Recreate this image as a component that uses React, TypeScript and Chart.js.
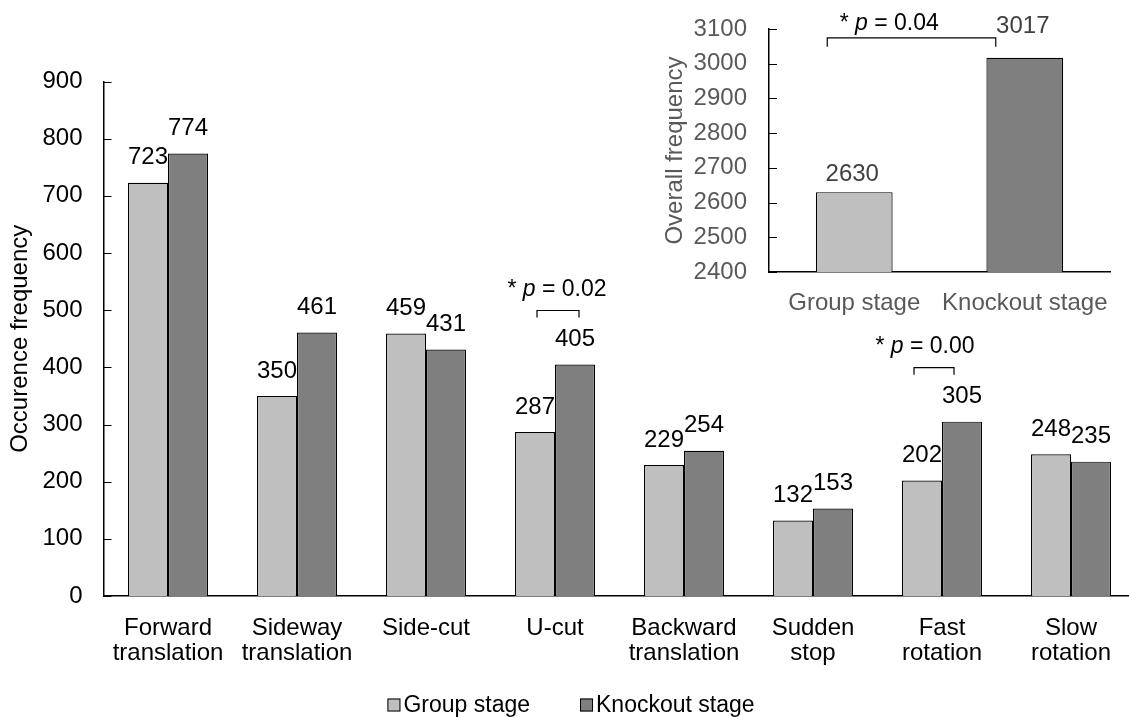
import { useEffect, useRef } from 'react';
import { Chart, registerables } from 'chart.js';

Chart.register(...registerables);

const FONT = '"Liberation Sans", Arial, Helvetica, sans-serif';

// ---- Main chart data ----
const categories: string[][] = [
  ['Forward', 'translation'],
  ['Sideway', 'translation'],
  ['Side-cut'],
  ['U-cut'],
  ['Backward', 'translation'],
  ['Sudden', 'stop'],
  ['Fast', 'rotation'],
  ['Slow', 'rotation'],
];
const seriesNames = ['Group stage', 'Knockout stage'];
const groupStage = [723, 350, 459, 287, 229, 132, 202, 248];
const knockoutStage = [774, 461, 431, 405, 254, 153, 305, 235];
const yMin = 0;
const yMax = 900;
const yStep = 100;
const yTitle = 'Occurence frequency';

// significance annotations (category index, p value)
const sigCategories = [3, 6];
const sigValues = ['0.02', '0.00'];

// ---- Inset data ----
const insetCategories = ['Group stage', 'Knockout stage'];
const insetValues = [2630, 3017];
const insetMin = 2400;
const insetMax = 3100;
const insetStep = 100;
const insetTitle = 'Overall frequency';
const insetSig = '0.04';

const LIGHT = '#bfbfbf';
const DARK = '#7f7f7f';
const FS = 24;
const FS_SIG = 23;
const FS_LEG = 23;

function drawSig(ctx: CanvasRenderingContext2D, cx: number, cy: number, value: string, size: number) {
  const normal = `${size}px ${FONT}`;
  const italic = `italic ${size}px ${FONT}`;
  const parts: [string, string][] = [['* ', normal], ['p', italic], [' = ' + value, normal]];
  let total = 0;
  const widths = parts.map(([t, f]) => {
    ctx.font = f;
    const w = ctx.measureText(t).width;
    total += w;
    return w;
  });
  let x = cx - total / 2;
  ctx.save();
  ctx.fillStyle = '#000';
  ctx.textAlign = 'left';
  ctx.textBaseline = 'middle';
  parts.forEach(([t, f], i) => {
    ctx.font = f;
    ctx.fillText(t, x, cy);
    x += widths[i];
  });
  ctx.restore();
}

function drawBracket(ctx: CanvasRenderingContext2D, x1: number, x2: number, top: number, leg: number) {
  ctx.save();
  ctx.strokeStyle = '#000';
  ctx.lineWidth = 1.2;
  ctx.beginPath();
  ctx.moveTo(x1, top + leg);
  ctx.lineTo(x1, top);
  ctx.lineTo(x2, top);
  ctx.lineTo(x2, top + leg);
  ctx.stroke();
  ctx.restore();
}

const insideTicksPlugin = {
  id: 'insideTicks',
  afterDraw(chart: any) {
    const y = chart.scales.y;
    const ctx = chart.ctx;
    const left = chart.chartArea.left;
    ctx.save();
    ctx.strokeStyle = '#000';
    ctx.lineWidth = 1;
    y.ticks.forEach((t: any) => {
      const py = Math.round(y.getPixelForValue(t.value)) + 0.5;
      ctx.beginPath();
      ctx.moveTo(left, py);
      ctx.lineTo(left + 8, py);
      ctx.stroke();
    });
    ctx.restore();
  },
};

const mainLabelsPlugin = {
  id: 'mainLabels',
  afterDatasetsDraw(chart: any) {
    const ctx = chart.ctx;
    ctx.save();
    ctx.font = `${FS}px ${FONT}`;
    ctx.fillStyle = '#000';
    ctx.textAlign = 'center';
    ctx.textBaseline = 'middle';
    chart.data.datasets.forEach((ds: any, di: number) => {
      const meta = chart.getDatasetMeta(di);
      meta.data.forEach((bar: any, i: number) => {
        ctx.fillText(String(ds.data[i]), bar.x, bar.y - 25);
      });
    });
    ctx.restore();

    // significance brackets
    const xs = chart.scales.x;
    const bracketOffsets = [
      { l: -18, r: 24, t: 2 },
      { l: -28, r: 12, t: -17 },
    ];
    sigCategories.forEach((ci, k) => {
      const c = xs.getPixelForValue(ci);
      const darkBar = chart.getDatasetMeta(1).data[ci];
      const top = darkBar.y - 54;
      const o = bracketOffsets[k];
      drawBracket(ctx, c + o.l, c + o.r, top, 7);
      drawSig(ctx, c + o.t, top - 21, sigValues[k], FS_SIG);
    });

    // legend
    ctx.save();
    ctx.font = `${FS_LEG}px ${FONT}`;
    const box = 13;
    const gapText = 3;
    const gapItem = 50;
    const colors = [LIGHT, DARK];
    const widths = seriesNames.map((n) => ctx.measureText(n).width);
    const total = widths.reduce((a, w) => a + box + gapText + w, 0) + gapItem * (seriesNames.length - 1);
    let x = 571 - total / 2;
    const cy = 705;
    seriesNames.forEach((n, i) => {
      ctx.fillStyle = colors[i];
      ctx.fillRect(x, cy - box / 2, box, box);
      ctx.strokeStyle = '#000';
      ctx.lineWidth = 1;
      ctx.strokeRect(x + 0.5, cy - box / 2 + 0.5, box - 1, box - 1);
      ctx.fillStyle = '#000';
      ctx.textAlign = 'left';
      ctx.textBaseline = 'middle';
      ctx.fillText(n, x + box + gapText, cy + 1);
      x += box + gapText + widths[i] + gapItem;
    });
    ctx.restore();
  },
};

const insetLabelsPlugin = {
  id: 'insetLabels',
  afterDatasetsDraw(chart: any) {
    const ctx = chart.ctx;
    const lifts = [18, 31];
    ctx.save();
    ctx.font = `${FS}px ${FONT}`;
    ctx.fillStyle = '#404040';
    ctx.textAlign = 'center';
    ctx.textBaseline = 'middle';
    const meta = chart.getDatasetMeta(0);
    meta.data.forEach((bar: any, i: number) => {
      ctx.fillText(String(chart.data.datasets[0].data[i]), bar.x - 2, bar.y - lifts[i]);
    });
    ctx.restore();
    const b0 = meta.data[0];
    const b1 = meta.data[1];
    const top = b1.y - 20;
    const x1 = b0.x - 27;
    const x2 = b1.x - 29;
    drawBracket(ctx, x1, x2, top, 9);
    drawSig(ctx, x1 + 62, top - 14, insetSig, FS_SIG);
  },
};

export default function App() {
  const mainRef = useRef<HTMLCanvasElement>(null);
  const insetRef = useRef<HTMLCanvasElement>(null);

  useEffect(() => {
    const main = new Chart(mainRef.current!, {
      type: 'bar',
      data: {
        labels: categories,
        datasets: [
          {
            label: seriesNames[0],
            data: groupStage,
            backgroundColor: LIGHT,
            borderColor: '#000',
            borderWidth: 1.2,
            categoryPercentage: 0.62,
            barPercentage: 1,
          },
          {
            label: seriesNames[1],
            data: knockoutStage,
            backgroundColor: DARK,
            borderColor: '#000',
            borderWidth: 1.2,
            categoryPercentage: 0.62,
            barPercentage: 1,
          },
        ],
      },
      options: {
        responsive: false,
        animation: false,
        layout: { padding: { top: 81.5, right: 4.5, left: 0, bottom: 0 } },
        plugins: { legend: { display: false }, tooltip: { enabled: false } },
        scales: {
          x: {
            grid: { display: false, drawTicks: false },
            border: { display: true, color: '#000', width: 1.5 },
            ticks: {
              color: '#000',
              font: { family: FONT, size: FS, lineHeight: 1.04 },
              padding: 20,
              maxRotation: 0,
              autoSkip: false,
            },
            afterFit: (s: any) => {
              s.height = 121;
            },
          },
          y: {
            min: yMin,
            max: yMax,
            grid: { display: false, drawTicks: false },
            border: { display: true, color: '#000', width: 1.5 },
            ticks: {
              stepSize: yStep,
              color: '#000',
              font: { family: FONT, size: FS },
              padding: 21,
              callback: (v: any) => String(v),
            },
            title: {
              display: true,
              text: yTitle,
              color: '#000',
              font: { family: FONT, size: FS },
              padding: { top: 6, bottom: 0 },
            },
            afterFit: (s: any) => {
              s.width = 103.5;
            },
          },
        },
      },
      plugins: [insideTicksPlugin, mainLabelsPlugin],
    } as any);

    const inset = new Chart(insetRef.current!, {
      type: 'bar',
      data: {
        labels: insetCategories,
        datasets: [
          {
            label: insetTitle,
            data: insetValues,
            backgroundColor: [LIGHT, DARK],
            borderColor: '#000',
            borderWidth: 1.2,
            categoryPercentage: 0.45,
            barPercentage: 1,
          },
        ],
      },
      options: {
        responsive: false,
        animation: false,
        layout: { padding: { top: 29, right: 18, left: 0, bottom: 0 } },
        plugins: { legend: { display: false }, tooltip: { enabled: false } },
        scales: {
          x: {
            grid: { display: false, drawTicks: false },
            border: { display: true, color: '#000', width: 1.5 },
            ticks: {
              color: '#595959',
              font: { family: FONT, size: FS },
              padding: 17,
              maxRotation: 0,
              autoSkip: false,
            },
            afterFit: (s: any) => {
              s.height = 48;
            },
          },
          y: {
            min: insetMin,
            max: insetMax,
            // invisible tick marks only provide the gap between labels and axis
            grid: { display: false, drawTicks: true, tickLength: 20 },
            border: { display: true, color: '#000', width: 1.5 },
            ticks: {
              stepSize: insetStep,
              color: '#595959',
              font: { family: FONT, size: FS },
              padding: 2,
              callback: (v: any) => String(v),
            },
            title: {
              display: true,
              text: insetTitle,
              color: '#595959',
              font: { family: FONT, size: FS },
              padding: { top: 21, bottom: 0 },
            },
            afterFit: (s: any) => {
              s.width = 129;
            },
          },
        },
      },
      plugins: [insideTicksPlugin, insetLabelsPlugin],
    } as any);

    return () => {
      main.destroy();
      inset.destroy();
    };
  }, []);

  return (
    <div
      style={{
        position: 'fixed',
        left: 0,
        top: 0,
        width: 1129,
        height: 717,
        overflow: 'hidden',
        background: '#fff',
      }}
    >
      <canvas
        ref={mainRef}
        width={1140}
        height={717}
        style={{ position: 'absolute', left: 0, top: 0, width: 1140, height: 717 }}
      />
      <canvas
        ref={insetRef}
        width={489}
        height={320}
        style={{ position: 'absolute', left: 640, top: 0, width: 489, height: 320 }}
      />
    </div>
  );
}
